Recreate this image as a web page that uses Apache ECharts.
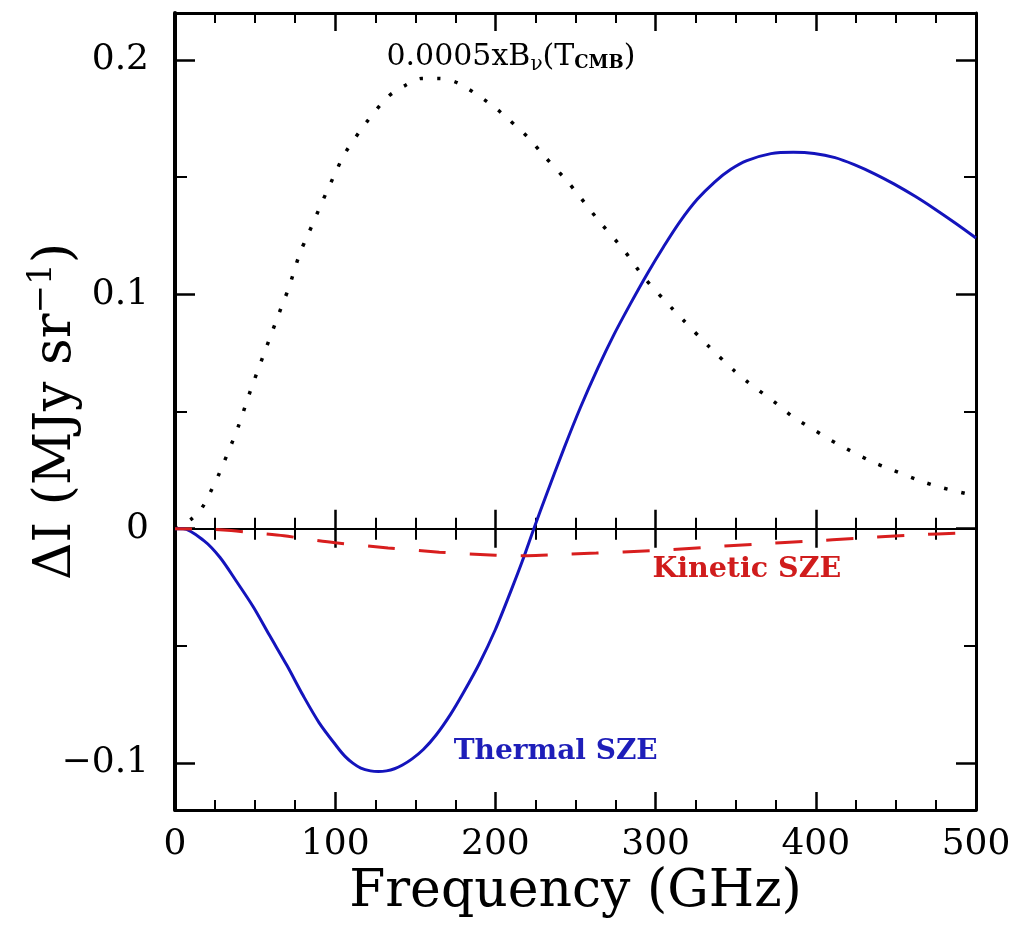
<!DOCTYPE html>
<html>
<head>
<meta charset="utf-8">
<script src="https://cdn.jsdelivr.net/npm/echarts@6/dist/echarts.min.js"></script>
<style>html,body{margin:0;padding:0;background:#fff}#c{width:1017px;height:925px}</style>
</head>
<body>
<div id="c"></div>
<script>
// ---- data ----
const thermalFreq = [0, 5, 18, 28, 38, 49, 59, 70, 80, 90, 101, 106, 111, 116, 122, 127, 132, 137, 142, 148, 155, 163, 172, 180, 190, 200, 210, 217, 224, 232, 243, 253, 264, 274, 284, 295, 305, 315, 326, 337, 347, 357, 372, 386, 399, 412, 424, 437, 449, 462, 474, 487, 500];
const thermalVal = [0, 0, -0.0051, -0.0122, -0.0221, -0.0335, -0.0455, -0.0585, -0.0712, -0.0828, -0.0929, -0.0970, -0.1000, -0.1021, -0.1033, -0.1036, -0.1033, -0.1024, -0.1008, -0.0982, -0.0942, -0.0880, -0.0792, -0.0700, -0.0575, -0.0430, -0.0260, -0.0135, 0, 0.0148, 0.0346, 0.0516, 0.0686, 0.0828, 0.0956, 0.1090, 0.1203, 0.1308, 0.1405, 0.1480, 0.1533, 0.1570, 0.1600, 0.1606, 0.1601, 0.1583, 0.1553, 0.1513, 0.1470, 0.1418, 0.1365, 0.1304, 0.1240];

const cmbFreq = [0, 10, 17, 22, 27, 36, 40, 47, 55, 67, 71, 78, 83, 92, 101, 106, 119, 133, 144, 154, 165, 177, 195, 204, 221, 229, 245, 251, 265, 280, 293, 310, 317, 333, 349, 358, 376, 385, 405, 414, 435, 445, 467, 478, 500];
const cmbVal = [0, 0.004, 0.0091, 0.0155, 0.0226, 0.0374, 0.0445, 0.0587, 0.0736, 0.0956, 0.1027, 0.1176, 0.1254, 0.1396, 0.1531, 0.1601, 0.1729, 0.1843, 0.1892, 0.1921, 0.1921, 0.19, 0.1821, 0.1772, 0.1665, 0.1601, 0.1481, 0.1431, 0.131, 0.119, 0.107, 0.0942, 0.0892, 0.0779, 0.0675, 0.0623, 0.0531, 0.0481, 0.0396, 0.036, 0.0286, 0.0258, 0.020, 0.0176, 0.014];

const kineticFreq = [0, 20, 35, 50, 68, 80, 100, 133, 165, 200, 220, 240, 263, 297, 330, 362, 394, 427, 460, 492, 500];
const kineticVal = [0, -0.0002, -0.0008, -0.0018, -0.003, -0.0042, -0.006, -0.0082, -0.010, -0.0113, -0.0115, -0.011, -0.0104, -0.0094, -0.008, -0.0066, -0.0054, -0.004, -0.0027, -0.0018, -0.0016];

const xTickLabels = ['0', '100', '200', '300', '400', '500'];
const yTickLabels = ['\u22120.1', '0', '0.1', '0.2'];
const xName = 'Frequency (GHz)';
const yName = '\u0394I (MJy sr{sup|\u22121})';
const cmbText = '0.0005xB{sub|\u03BD}(T{sub2|CMB})';
const kineticText = 'Kinetic SZE';
const thermalText = 'Thermal SZE';

// ---- chart ----
const zip = (a, b) => a.map((v, i) => [v, b[i]]);
const FONT = 'DejaVu Serif';
const chart = echarts.init(document.getElementById('c'), null, {renderer: 'canvas'});

function xAx(extra) {
  return Object.assign({
    type: 'value', min: 0, max: 500, interval: 100,
    splitLine: {show: false},
    axisLabel: {show: false},
    axisLine: {onZero: false, lineStyle: {color: '#000', width: 3}},
    axisTick: {inside: true, length: 18, lineStyle: {color: '#000', width: 2.5}},
    minorTick: {show: true, splitNumber: 4, length: 10, lineStyle: {color: '#000', width: 2}}
  }, extra);
}
function yAx(extra) {
  return Object.assign({
    type: 'value', min: -0.12, max: 0.22, splitNumber: 3,
    splitLine: {show: false},
    axisLabel: {show: false},
    axisLine: {onZero: false, lineStyle: {color: '#000', width: 3}},
    axisTick: {inside: true, length: 20, lineStyle: {color: '#000', width: 2.5}},
    minorTick: {show: true, splitNumber: 2, length: 12, lineStyle: {color: '#000', width: 2}}
  }, extra);
}
function yLabel(v) {
  if (Math.abs(v * 10 - Math.round(v * 10)) > 1e-6) return '';
  const i = Math.round(v * 10) + 1;
  return yTickLabels[i] || '';
}

const option = {
  backgroundColor: '#fff',
  animation: false,
  grid: {left: 175, right: 41, top: 13, bottom: 115, containLabel: false, outerBoundsMode: 'none'},
  xAxis: [
    xAx({position: 'bottom',
      axisLabel: {show: true, color: '#000', fontFamily: FONT, fontSize: 36, margin: 17,
        formatter: v => xTickLabels[Math.round(v / 100)]},
      name: xName, nameLocation: 'middle', nameGap: 56, nameMoveOverlap: false,
      nameTextStyle: {color: '#000', fontFamily: FONT, fontSize: 52}}),
    xAx({position: 'top'}),
    xAx({position: 'top', axisLine: {onZero: true, onZeroAxisIndex: 0, lineStyle: {color: '#000', width: 2}},
      axisTick: {inside: true, length: 19, lineStyle: {color: '#000', width: 2.5}},
      minorTick: {show: true, splitNumber: 4, length: 11, lineStyle: {color: '#000', width: 2}}}),
    xAx({position: 'top', axisLine: {onZero: true, onZeroAxisIndex: 0, lineStyle: {color: '#000', width: 2}},
      axisTick: {inside: false, length: 19, lineStyle: {color: '#000', width: 2.5}},
      minorTick: {show: true, splitNumber: 4, length: 11, lineStyle: {color: '#000', width: 2}}})
  ],
  yAxis: [
    yAx({position: 'left',
      axisLine: {onZero: false, lineStyle: {color: '#000', width: 4}},
      axisLabel: {show: true, color: '#000', fontFamily: FONT, fontSize: 36, margin: 26, formatter: yLabel},
      name: yName, nameLocation: 'middle', nameGap: 88, nameRotate: 90, nameMoveOverlap: false,
      nameTextStyle: {color: '#000', fontFamily: FONT, fontSize: 52,
        rich: {sup: {fontFamily: FONT, fontSize: 34, color: '#000', verticalAlign: 'bottom', padding: [0, 0, 28, 0]}}}}),
    yAx({position: 'right'})
  ],
  series: [
    {
      name: 'cmb', type: 'line', xAxisIndex: 0, yAxisIndex: 0, showSymbol: false, symbol: 'none',
      smooth: 0.3, data: zip(cmbFreq, cmbVal),
      lineStyle: {color: '#000', width: 3.5, type: [3.5, 14], cap: 'butt'},
      markPoint: {symbol: 'circle', symbolSize: 0, data: [{coord: [132, 0.2013], value: 0,
        label: {show: true, position: 'right', distance: 0, formatter: cmbText, color: '#000',
          fontFamily: FONT, fontSize: 30,
          rich: {sub: {fontFamily: FONT, fontSize: 20, color: '#000', verticalAlign: 'top', padding: [15, 0, 0, 0]},
                 sub2: {fontFamily: FONT, fontSize: 18, fontWeight: 'bold', color: '#000', verticalAlign: 'top', padding: [15, 0, 0, 0]}}}}]}
    },
    {
      name: 'thermal', type: 'line', xAxisIndex: 0, yAxisIndex: 0, showSymbol: false, symbol: 'none',
      smooth: 0.3, data: zip(thermalFreq, thermalVal),
      lineStyle: {color: '#1414bc', width: 3},
      markPoint: {symbol: 'circle', symbolSize: 0, data: [{coord: [174, -0.0953], value: 0,
        label: {show: true, position: 'right', distance: 0, formatter: thermalText, color: '#1e1eb9',
          fontFamily: FONT, fontWeight: 'bold', fontSize: 28}}]}
    },
    {
      name: 'kinetic', type: 'line', xAxisIndex: 0, yAxisIndex: 0, showSymbol: false, symbol: 'none',
      smooth: 0.3, data: zip(kineticFreq, kineticVal),
      lineStyle: {color: '#d81e1e', width: 3, type: [27, 24], dashOffset: 10},
      markPoint: {symbol: 'circle', symbolSize: 0, data: [{coord: [298, -0.0174], value: 0,
        label: {show: true, position: 'right', distance: 0, formatter: kineticText, color: '#d01c1c',
          fontFamily: FONT, fontWeight: 'bold', fontSize: 28.5}}]}
    }
  ]
};
chart.setOption(option);
</script>
</body>
</html>
